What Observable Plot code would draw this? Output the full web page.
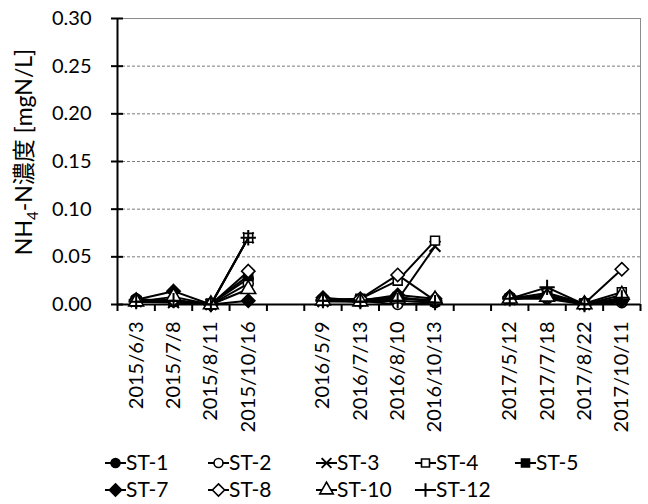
<!DOCTYPE html>
<html>
<head>
<meta charset="utf-8">
<script src="https://cdn.jsdelivr.net/npm/d3@7"></script>
<script src="https://cdn.jsdelivr.net/npm/@observablehq/plot@0.6"></script>
<style>
  body { margin: 0; background: white; }
  #chart svg { display: block; }
</style>
</head>
<body>
<div id="chart"></div>
<script>
// Category axis (blank entries are the gaps between years)
const categories = ["2015/6/3","2015/7/8","2015/8/11","2015/10/16","",
                    "2016/5/9","2016/7/13","2016/8/10","2016/10/13","",
                    "2017/5/12","2017/7/18","2017/8/22","2017/10/11"];
const dates = categories.filter(d => d !== "");
const yTicks = [0, 0.05, 0.10, 0.15, 0.20, 0.25, 0.30];

const seriesNames = ["ST-1","ST-2","ST-3","ST-4","ST-5","ST-7","ST-8","ST-10","ST-12"];
const seriesSymbols = ["circle","circle","times","square","square","diamond2","diamond2","triangle","plus"];
const seriesFilled = [true,false,false,false,true,true,false,false,false];

const st1  = [0.006,0.003,0.001,0.027, 0.006,0.003,0.007,0.003, 0.008,0.007,0.001,0.003];
const st2  = [0.004,0.003,0.000,0.022, 0.004,0.004,0.000,0.002, 0.006,0.006,0.000,0.002];
const st3  = [0.003,0.002,0.000,0.070, 0.003,0.004,0.005,0.061, 0.005,0.010,0.000,0.005];
const st4  = [0.003,0.003,0.000,0.070, 0.004,0.006,0.025,0.067, 0.006,0.012,0.001,0.013];
const st5  = [0.004,0.003,0.001,0.030, 0.004,0.005,0.008,0.003, 0.006,0.009,0.001,0.005];
const st7  = [0.005,0.014,0.000,0.004, 0.007,0.004,0.010,0.006, 0.008,0.008,0.001,0.004];
const st8  = [0.004,0.005,0.000,0.035, 0.005,0.006,0.031,0.004, 0.007,0.008,0.001,0.037];
const st10 = [0.003,0.008,0.000,0.016, 0.004,0.003,0.006,0.005, 0.006,0.008,0.000,0.010];
const st12 = [0.003,0.004,0.000,0.070, 0.004,0.003,0.004,0.002, 0.006,0.018,0.000,0.007];
const seriesValues = [st1,st2,st3,st4,st5,st7,st8,st10,st12];

const FONT = "Lato, 'Noto Sans CJK JP', sans-serif";
const positions = categories.map((c,i)=>i+1).filter(i => categories[i-1] !== "");
const bounds = d3.range(0.5, categories.length + 1, 1);

function symbolR(sym) {
  return sym === "diamond2" ? 6 : sym === "triangle" ? 5.5 : 5;
}

const marks = [
  Plot.ruleY(yTicks.filter(v => v > 0 && v < 0.3), {stroke:"#7a7a7a", strokeWidth:1, strokeDasharray:"3,2"}),
  Plot.ruleY([0.30], {stroke:"#8c8c8c", strokeWidth:1}),
  Plot.ruleX([categories.length + 0.5], {stroke:"#8c8c8c", strokeWidth:1}),
  Plot.axisY({ticks: yTicks, tickFormat: d => d.toFixed(2), tickSize: 6, tickPadding: 20, label: null, fontSize: 20, strokeWidth: 2}),
  Plot.axisY({ticks: yTicks, tickFormat: () => "", tickSize: -6, label: null, strokeWidth: 2}),
  Plot.axisX({ticks: positions, tickFormat: i => categories[i-1], tickRotate: -90, tickSize: 0, tickPadding: 17, label: null, fontSize: 20}),
  Plot.axisX({ticks: bounds, tickFormat: () => "", tickSize: 7, label: null, strokeWidth: 2}),
  Plot.ruleX([0.5], {stroke:"black", strokeWidth:2}),
  Plot.ruleY([0], {stroke:"black", strokeWidth:2})
];

seriesNames.forEach((name, k) => {
  const rows = dates.map((d, j) => ({
    series: name,
    date: d,
    x: categories.indexOf(d) + 1,
    y: seriesValues[k][j],
    year: d.slice(0,4)
  }));
  marks.push(Plot.line(rows, {x:"x", y:"y", z:"year", stroke:"black", strokeWidth:2}));
  const sym = seriesSymbols[k];
  const stroked = sym === "plus" || sym === "times";
  marks.push(Plot.dot(rows, {
    x:"x", y:"y", symbol: sym,
    r: symbolR(sym),
    fill: stroked ? "none" : (seriesFilled[k] ? "black" : "white"),
    stroke: "black", strokeWidth: stroked ? 2 : 1.6
  }));
});

const chart = Plot.plot({
  width: 648, height: 445,
  marginLeft: 117, marginRight: 8, marginTop: 18, marginBottom: 141,
  x: {type: "linear", domain: [0.5, categories.length + 0.5]},
  y: {domain: [0, 0.30]},
  style: {fontFamily: FONT, fontSize: "20px", color: "black", background: "white"},
  marks
});

// y label with subscript
const s = d3.select(chart);
const lab = s.append("text")
  .attr("transform", "translate(32,152) rotate(-90)")
  .attr("text-anchor", "middle")
  .attr("font-family", FONT).attr("font-size", 23).attr("fill", "black");
lab.append("tspan").text("NH");
lab.append("tspan").attr("font-size", 15).attr("dy", 6).text("4");
lab.append("tspan").attr("dy", -6).text("-N濃度 [mgN/L]");

document.getElementById("chart").appendChild(chart);

// Legend below the chart
const legend = d3.select("#chart").append("svg").attr("width", 648).attr("height", 59)
  .style("display","block").style("font-family", FONT);
const colX = [105, 208, 316, 415, 515];
const symMap = {circle: d3.symbolCircle, square: d3.symbolSquare, diamond2: d3.symbolDiamond2, triangle: d3.symbolTriangle, plus: d3.symbolPlus, times: d3.symbolTimes};
seriesNames.forEach((name, k) => {
  const row = k < 5 ? 0 : 1;
  const col = k < 5 ? k : k - 5;
  const x0 = colX[col], y0 = row === 0 ? 18 : 45;
  const g = legend.append("g").attr("transform", `translate(${x0},${y0})`);
  g.append("line").attr("x1", 0).attr("x2", 21).attr("stroke", "black").attr("stroke-width", 2);
  const sym = seriesSymbols[k];
  const stroked = sym === "plus" || sym === "times";
  const r = symbolR(sym) - 0.5;
  g.append("path").attr("transform", "translate(10.5,0)")
    .attr("d", d3.symbol(symMap[sym], Math.PI * r * r)())
    .attr("fill", stroked ? "none" : (seriesFilled[k] ? "black" : "white"))
    .attr("stroke", "black").attr("stroke-width", stroked ? 2 : 1.6);
  g.append("text").attr("x", 21).attr("y", 0).attr("dy", "0.35em")
    .attr("font-size", 21).attr("fill", "black").text(name);
});
</script>
</body>
</html>
